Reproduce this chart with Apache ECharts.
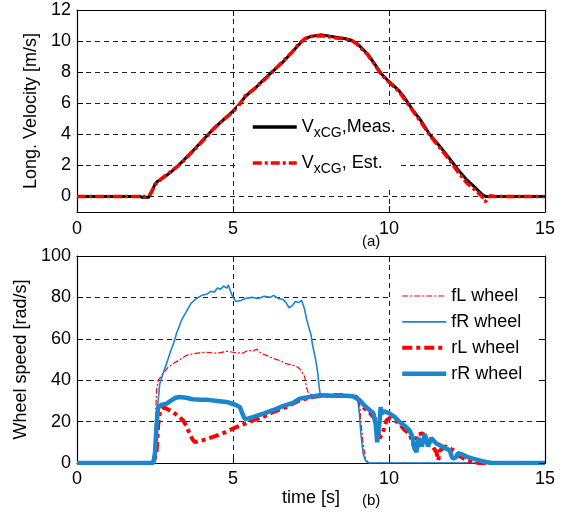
<!DOCTYPE html>
<html>
<head>
<meta charset="utf-8">
<script src="https://cdn.jsdelivr.net/npm/echarts@6/dist/echarts.min.js"></script>
<style>
html, body { margin: 0; padding: 0; background: #fff; }
#chart { width: 576px; height: 516px; }
</style>
</head>
<body>
<div id="chart"></div>
<script>
const FONT = '"Liberation Sans", Arial, sans-serif';
const RED = '#ff0000';
const BLUE = '#1a86cc';

// tick labels
const timeTicks = [0, 5, 10, 15];
const velTicks = [0, 2, 4, 6, 8, 10, 12];
const wheelTicks = [0, 20, 40, 60, 80, 100];

// (a) longitudinal velocity at CG [t (s), v (m/s)]
const velMeas = [
  [0, 0], [2.0, 0], [2.1, -0.05], [2.3, -0.05], [2.4, 0.3], [2.5, 0.8], [2.6, 1.0],
  [2.8, 1.25], [3.0, 1.55], [3.2, 1.9], [3.5, 2.5], [3.7, 2.9], [4.0, 3.55], [4.4, 4.4],
  [4.7, 4.95], [5.0, 5.5], [5.2, 5.9], [5.4, 6.45], [5.7, 6.95], [6.0, 7.55], [6.3, 8.1],
  [6.6, 8.65], [6.9, 9.3], [7.1, 9.75], [7.3, 10.15], [7.5, 10.3], [7.8, 10.4], [8.0, 10.35],
  [8.3, 10.25], [8.6, 10.15], [8.8, 10.05], [9.0, 9.8], [9.3, 9.2], [9.5, 8.65], [9.75, 7.9],
  [10.0, 7.4], [10.3, 6.85], [10.5, 6.35], [10.8, 5.45], [11.0, 4.95], [11.3, 4.0], [11.6, 3.3],
  [11.9, 2.55], [12.2, 1.75], [12.5, 1.05], [12.8, 0.5], [13.0, 0.1], [13.1, 0], [15, 0]
];
const velEst = [
  [0, 0], [2.2, 0], [2.35, 0.15], [2.5, 0.75], [2.6, 0.95], [2.8, 1.3], [3.0, 1.6], [3.2, 1.9],
  [3.5, 2.45], [3.7, 2.9], [4.0, 3.5], [4.4, 4.4], [4.7, 4.95], [5.0, 5.45], [5.2, 5.9],
  [5.4, 6.5], [5.7, 6.95], [6.0, 7.5], [6.3, 8.1], [6.6, 8.7], [6.9, 9.3], [7.1, 9.8],
  [7.3, 10.15], [7.5, 10.3], [7.8, 10.35], [8.0, 10.3], [8.3, 10.2], [8.6, 10.15], [8.8, 10.05],
  [9.0, 9.75], [9.3, 9.15], [9.5, 8.6], [9.75, 7.85], [10.0, 7.35], [10.3, 6.8], [10.5, 6.25],
  [10.8, 5.4], [11.0, 4.85], [11.3, 3.95], [11.6, 3.2], [11.9, 2.45], [12.2, 1.6], [12.5, 0.85],
  [12.8, 0.35], [13.0, -0.05], [13.08, -0.35], [13.15, -0.2], [13.25, 0.05], [13.4, 0], [15, 0]
];

// (b) wheel speeds [t (s), omega (rad/s)]
const wheelFL = [
  [0, 0], [2.38, 0], [2.45, 3], [2.5, 15], [2.55, 35], [2.6, 40], [2.76, 43], [2.9, 46],
  [3.08, 48], [3.3, 50], [3.51, 52], [3.8, 53], [4.15, 53.5], [4.5, 53], [4.8, 54], [5.0, 53.5],
  [5.3, 53], [5.5, 54.5], [5.64, 54], [5.75, 55], [5.9, 53], [6.07, 52], [6.3, 50.5], [6.5, 49.5],
  [6.7, 48], [6.92, 47.2], [7.05, 46.5], [7.14, 45.5], [7.25, 43], [7.3, 41.5], [7.35, 37],
  [7.4, 34.3], [7.5, 33], [8.0, 32.8], [8.5, 33], [8.9, 32.5], [9.05, 30], [9.1, 20], [9.18, 8],
  [9.25, 2], [9.35, 0], [15, 0]
];
const wheelFR = [
  [0, 0], [2.42, 0], [2.48, 5], [2.54, 17], [2.6, 30], [2.65, 38], [2.75, 43], [2.87, 48],
  [3.0, 54], [3.1, 58], [3.2, 63], [3.35, 69], [3.5, 73], [3.65, 77], [3.83, 79.5], [4.0, 81],
  [4.15, 81.5], [4.3, 83], [4.4, 82.5], [4.5, 84.5], [4.6, 84], [4.7, 85.5], [4.8, 84.5],
  [4.85, 86], [4.92, 83], [5.0, 80], [5.1, 78], [5.25, 78.5], [5.4, 79.5], [5.6, 80], [5.8, 79.5],
  [6.0, 80.5], [6.2, 80], [6.3, 81], [6.45, 79.5], [6.6, 79], [6.7, 77.5], [6.8, 75], [6.9, 76],
  [7.0, 78], [7.1, 77.5], [7.2, 78.5], [7.3, 74], [7.35, 70], [7.42, 66], [7.5, 62], [7.55, 57],
  [7.62, 52], [7.68, 47], [7.72, 43], [7.76, 37], [7.8, 32.5], [8.0, 32.5], [8.5, 32.5],
  [8.9, 32], [9.0, 31], [9.05, 24], [9.1, 14], [9.17, 4.5], [9.25, 1], [9.35, 0], [15, 0]
];
const wheelRL = [
  [0, 0], [2.45, 0], [2.55, 5], [2.6, 18], [2.66, 25], [2.76, 27], [2.9, 26], [3.08, 24.6],
  [3.25, 22.5], [3.4, 20.6], [3.5, 18], [3.61, 14.2], [3.7, 11.5], [3.77, 10.1], [4.0, 10.8],
  [4.36, 12.6], [4.7, 14.5], [5.0, 16.6], [5.3, 18.5], [5.64, 20.6], [6.0, 22.5], [6.28, 24.6],
  [6.7, 27], [7.14, 30.3], [7.6, 32], [8.0, 32.6], [8.5, 32.8], [8.95, 32], [9.1, 29], [9.17, 27],
  [9.4, 24], [9.6, 20.6], [9.7, 12], [9.8, 14.5], [9.92, 20.6], [10.05, 22], [10.3, 19.5],
  [10.5, 16], [10.66, 14], [10.82, 7], [10.9, 14], [11.09, 14.2], [11.2, 11], [11.3, 9],
  [11.41, 7.7], [11.52, 5.3], [11.58, 1.3], [11.63, 6], [11.8, 8], [11.95, 7], [12.1, 6],
  [12.16, 4.5], [12.3, 3], [12.5, 1.3], [12.7, 0.5], [12.9, 0], [15, 0]
];
const wheelRR = [
  [0, 0], [2.45, 0], [2.5, 5], [2.55, 18], [2.6, 27], [2.7, 28], [2.87, 28.7], [3.0, 30],
  [3.15, 31.5], [3.29, 31.9], [3.5, 31.5], [3.7, 30.8], [3.93, 30.6], [4.2, 30.5], [4.5, 30],
  [4.79, 29.5], [5.0, 28.5], [5.1, 28], [5.22, 27], [5.3, 24], [5.37, 21.4], [5.5, 21.5],
  [5.64, 22.2], [6.0, 24], [6.28, 25.5], [6.6, 27.5], [6.92, 29], [7.14, 31.1], [7.5, 32],
  [7.78, 32.7], [8.2, 32.5], [8.6, 32.5], [8.85, 32.2], [9.06, 30.3], [9.2, 28], [9.38, 25.5],
  [9.5, 24], [9.58, 18], [9.62, 10], [9.66, 9.4], [9.7, 20], [9.73, 27], [9.76, 23.9],
  [9.85, 25], [10.02, 23.9], [10.2, 22], [10.34, 19.8], [10.5, 18], [10.66, 15.8], [10.75, 12.6],
  [10.82, 7], [10.88, 5.3], [10.95, 12], [11.05, 8], [11.15, 14], [11.2, 13.4], [11.25, 8],
  [11.35, 12], [11.52, 9.4], [11.7, 8], [11.95, 6.1], [12.0, 3.5], [12.05, 2.1], [12.16, 2.9],
  [12.2, 4.8], [12.37, 4], [12.5, 3], [12.69, 2.1], [12.9, 1.3], [13.1, 0.5], [13.3, 0], [15, 0]
];

const gridLine = { show: true, lineStyle: { color: '#222', width: 1, type: [5, 4] } };
const axisLine = { show: true, onZero: false, lineStyle: { color: '#000', width: 1.2 } };
const labelStyle = { color: '#000', fontSize: 18, fontFamily: FONT };
const hiddenMarker = { opacity: 0 };

function valueAxis(opts) {
  const ticks = opts.ticks;
  return {
    type: 'value',
    gridIndex: opts.grid,
    position: opts.position,
    min: opts.min,
    max: opts.max,
    axisLine: axisLine,
    axisTick: { show: true, inside: true, length: 6, customValues: ticks, lineStyle: { color: '#000', width: 1 } },
    axisLabel: opts.labels ? Object.assign({ customValues: ticks, margin: opts.margin }, labelStyle) : { show: false },
    splitLine: opts.split ? gridLine : { show: false },
    name: opts.name || '',
    nameLocation: 'middle',
    nameGap: opts.nameGap || 0,
    nameTextStyle: { color: '#000', fontSize: 18, fontFamily: FONT },
    z: opts.z || 1
  };
}

const chart = echarts.init(document.getElementById('chart'), null, { renderer: 'canvas' });

chart.setOption({
  animation: false,
  backgroundColor: '#fff',
  grid: [
    { left: 77, right: 31, top: 10, height: 202 },
    { left: 77, right: 31, top: 256, height: 207 }
  ],
  xAxis: [
    valueAxis({ grid: 0, position: 'bottom', min: 0, max: 15, ticks: timeTicks, labels: true, split: true, margin: 8 }),
    valueAxis({ grid: 0, position: 'top', min: 0, max: 15, ticks: timeTicks, z: 8 }),
    valueAxis({ grid: 1, position: 'bottom', min: 0, max: 15, ticks: timeTicks, labels: true, split: true, margin: 7,
      name: 'time [s]', nameGap: 24 }),
    valueAxis({ grid: 1, position: 'top', min: 0, max: 15, ticks: timeTicks, z: 8 })
  ],
  yAxis: [
    valueAxis({ grid: 0, position: 'left', min: -1, max: 12, ticks: velTicks, labels: true, split: true, margin: 6,
      name: 'Long. Velocity [m/s]', nameGap: 33 }),
    valueAxis({ grid: 0, position: 'right', min: -1, max: 12, ticks: velTicks, z: 8 }),
    valueAxis({ grid: 1, position: 'left', min: 0, max: 100, ticks: wheelTicks, labels: true, split: true, margin: 6,
      name: 'Wheel speed [rad/s]', nameGap: 40 }),
    valueAxis({ grid: 1, position: 'right', min: 0, max: 100, ticks: wheelTicks, z: 8 })
  ],
  legend: [
    {
      orient: 'vertical',
      left: 237, top: 106,
      padding: [12, 2, 12, 14],
      itemWidth: 44, itemHeight: 14, itemGap: 14,
      backgroundColor: '#fff',
      borderWidth: 0,
      z: 6,
      data: [
        { name: 'VxCG,Meas.', itemStyle: hiddenMarker, lineStyle: { color: '#000', width: 3.5, type: 'solid' } },
        { name: 'VxCG, Est.', itemStyle: hiddenMarker, lineStyle: { color: RED, width: 3.5, type: [9, 3, 3, 3] } }
      ],
      formatter: function (name) {
        return name === 'VxCG,Meas.' ? '{v|V}{s|xCG}{v|,Meas.}' : '{v|V}{s|xCG}{v|, Est.}';
      },
      textStyle: {
        color: '#000', fontFamily: FONT, fontSize: 18,
        rich: {
          v: { fontSize: 18, fontFamily: FONT, color: '#000', lineHeight: 26, verticalAlign: 'middle' },
          s: { fontSize: 14, fontFamily: FONT, color: '#000', lineHeight: 14, verticalAlign: 'bottom' }
        }
      }
    },
    {
      orient: 'vertical',
      left: 392, top: 277,
      padding: [10, 17, 8, 8],
      itemWidth: 44, itemHeight: 14, itemGap: 7.9,
      backgroundColor: '#fff',
      borderWidth: 0,
      z: 6,
      data: [
        { name: 'fL wheel', itemStyle: hiddenMarker, lineStyle: { color: RED, width: 1.2, type: [6, 2, 2, 2] } },
        { name: 'fR wheel', itemStyle: hiddenMarker, lineStyle: { color: BLUE, width: 1.6, type: 'solid' } },
        { name: 'rL wheel', itemStyle: hiddenMarker, lineStyle: { color: RED, width: 4, type: [10, 4, 4, 4] } },
        { name: 'rR wheel', itemStyle: hiddenMarker, lineStyle: { color: BLUE, width: 4.5, type: 'solid' } }
      ],
      textStyle: { color: '#000', fontFamily: FONT, fontSize: 18 }
    }
  ],
  graphic: [
    { type: 'text', left: 362, top: 234, style: { text: '(a)', fill: '#000', font: '15px ' + FONT } },
    { type: 'text', left: 362, top: 493, style: { text: '(b)', fill: '#000', font: '15px ' + FONT } }
  ],
  series: [
    { name: 'VxCG,Meas.', type: 'line', xAxisIndex: 0, yAxisIndex: 0, data: velMeas, symbol: 'none',
      lineStyle: { color: '#000', width: 3 }, itemStyle: { color: '#000' } },
    { name: 'VxCG, Est.', type: 'line', xAxisIndex: 0, yAxisIndex: 0, data: velEst, symbol: 'none',
      lineStyle: { color: RED, width: 3.5, type: [9, 3, 3, 3] }, itemStyle: { color: RED } },
    { name: 'fL wheel', type: 'line', xAxisIndex: 2, yAxisIndex: 2, data: wheelFL, symbol: 'none',
      lineStyle: { color: RED, width: 1.2, type: [6, 2, 2, 2] }, itemStyle: { color: RED } },
    { name: 'fR wheel', type: 'line', xAxisIndex: 2, yAxisIndex: 2, data: wheelFR, symbol: 'none',
      lineStyle: { color: BLUE, width: 1.6 }, itemStyle: { color: BLUE } },
    { name: 'rL wheel', type: 'line', xAxisIndex: 2, yAxisIndex: 2, data: wheelRL, symbol: 'none',
      lineStyle: { color: RED, width: 4, type: [10, 4, 4, 4] }, itemStyle: { color: RED } },
    { name: 'rR wheel', type: 'line', xAxisIndex: 2, yAxisIndex: 2, data: wheelRR, symbol: 'none',
      lineStyle: { color: BLUE, width: 4.5 }, itemStyle: { color: BLUE } }
  ]
});
</script>
</body>
</html>
